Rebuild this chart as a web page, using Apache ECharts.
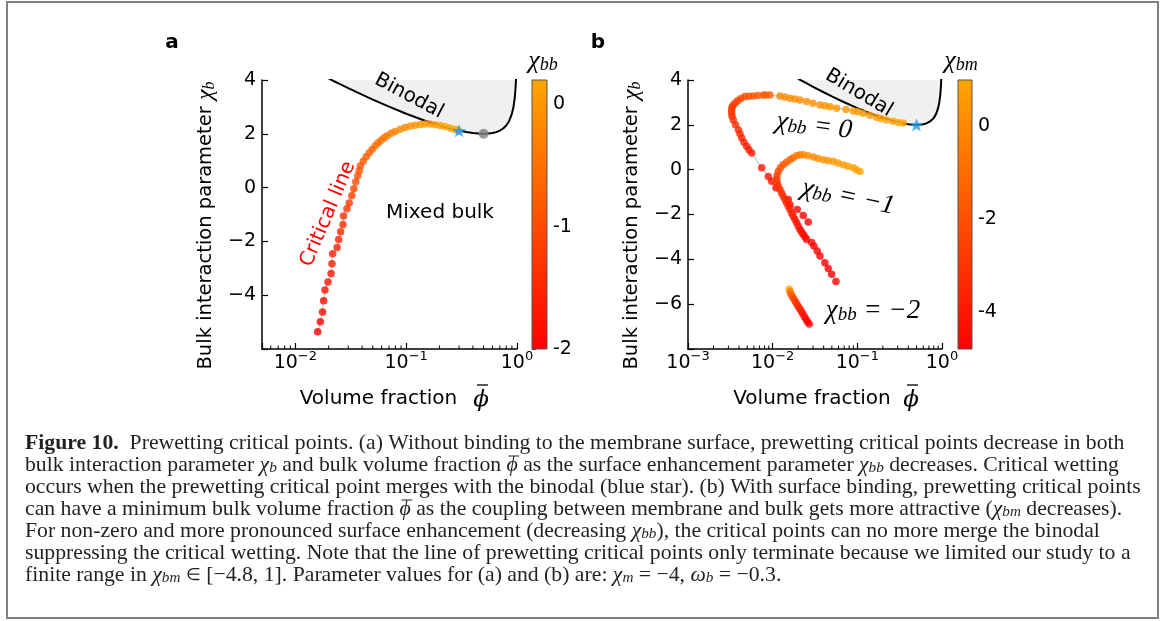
<!DOCTYPE html>
<html><head><meta charset="utf-8">
<script src="https://cdn.jsdelivr.net/npm/echarts@6/dist/echarts.min.js"></script>
<style>html,body{margin:0;padding:0;background:#fff}#c{width:1165px;height:621px}</style>
</head><body><div id="c"></div>
<script>
// ---------------- data ----------------
// Binodal (shared by both panels)
const binodalPhi = [0.02, 0.021, 0.025, 0.03, 0.04, 0.05, 0.07, 0.1, 0.15, 0.2, 0.25, 0.3, 0.35, 0.4, 0.45, 0.5, 0.55, 0.6, 0.65, 0.7, 0.75, 0.8, 0.85, 0.9, 0.93, 0.95, 0.96, 0.97, 0.975, 0.979, 0.98];
const binodalChi = [4.054, 4.01, 3.856, 3.698, 3.454, 3.272, 3.008, 2.747, 2.478, 2.31, 2.197, 2.118, 2.063, 2.027, 2.007, 2.0, 2.007, 2.027, 2.063, 2.118, 2.197, 2.31, 2.478, 2.747, 3.008, 3.272, 3.454, 3.698, 3.856, 4.01, 4.054];

// Panel a: critical line, colour = chi_bb
const critA_phi = [0.0159, 0.0168, 0.0176, 0.0180, 0.0185, 0.0197, 0.0210, 0.0214, 0.0217, 0.0238, 0.0246, 0.0256, 0.0269, 0.0272, 0.0292, 0.0306,
  0.0323, 0.0337, 0.0351, 0.0366, 0.0377,
  0.0385, 0.0410, 0.0436, 0.0464, 0.0494, 0.0526, 0.0559, 0.0595, 0.0633, 0.0674, 0.0733, 0.0796, 0.0883, 0.0980, 0.1086, 0.1205, 0.1337, 0.1483, 0.1645, 0.1825, 0.2024, 0.2245, 0.2490, 0.2763, 0.2940];
const critA_chi = [-5.36, -4.99, -4.62, -4.21, -3.81, -3.51, -3.19, -2.83, -2.46, -2.23, -1.93, -1.64, -1.37, -1.06, -0.79, -0.57,
  -0.30, -0.04, 0.22, 0.44, 0.63,
  0.80, 0.98, 1.15, 1.30, 1.43, 1.56, 1.67, 1.76, 1.85, 1.93, 2.02, 2.09, 2.17, 2.23, 2.29, 2.32, 2.35, 2.36, 2.36, 2.34, 2.31, 2.27, 2.22, 2.16, 2.12];
const critA_chibb = [-2.0, -1.95, -1.9, -1.85, -1.8, -1.75, -1.7, -1.65, -1.6, -1.55, -1.5, -1.45, -1.4, -1.35, -1.3, -1.22,
  -1.15, -1.08, -1.0, -0.95, -0.9,
  -0.85, -0.8, -0.75, -0.7, -0.65, -0.6, -0.55, -0.5, -0.45, -0.4, -0.34, -0.28, -0.22, -0.16, -0.11, -0.06, -0.02, 0.02, 0.05, 0.08, 0.1, 0.12, 0.14, 0.16, 0.18];
const starA = [0.30, 2.12];
const bulkCritA = [0.5, 2.0];

// Panel b: chi_bb = 0, colour = chi_bm
const b0_phi = [0.3482, 0.3040, 0.2633, 0.2218, 0.1900, 0.1690, 0.1408, 0.1174, 0.1016, 0.0895, 0.0733, 0.0569, 0.0475, 0.0414, 0.0362, 0.0299, 0.0252, 0.0210, 0.01834, 0.01601, 0.01397, 0.01220,
  0.00929, 0.00834, 0.00774, 0.00670, 0.00590, 0.00525, 0.00471, 0.00422, 0.00389, 0.00364, 0.00343, 0.00331, 0.00328, 0.00328, 0.00331, 0.00343, 0.00364, 0.00393, 0.00411, 0.00431, 0.00458, 0.00493, 0.00525, 0.00565,
  0.00742, 0.00887, 0.00973, 0.01094, 0.01528, 0.01601, 0.01952, 0.02298, 0.02633];
const b0_chi = [2.08, 2.10, 2.16, 2.22, 2.28, 2.34, 2.43, 2.52, 2.58, 2.62, 2.68, 2.74, 2.81, 2.85, 2.89, 2.96, 3.04, 3.11, 3.15, 3.19, 3.24, 3.29,
  3.33, 3.33, 3.33, 3.31, 3.29, 3.28, 3.26, 3.18, 3.09, 2.98, 2.89, 2.78, 2.67, 2.53, 2.38, 2.22, 2.0, 1.78, 1.6, 1.41, 1.22, 1.04, 0.89, 0.74,
  0.08, -0.30, -0.52, -0.81, -1.33, -1.56, -1.78, -2.04, -2.34];
const b0_chibm = [1.0, 0.95, 0.9, 0.85, 0.8, 0.75, 0.7, 0.65, 0.6, 0.55, 0.5, 0.45, 0.4, 0.35, 0.3, 0.25, 0.2, 0.15, 0.1, 0.05, 0.0, -0.05,
  -1.5, -1.6, -1.7, -1.8, -1.9, -2.0, -2.1, -2.2, -2.35, -2.5, -2.6, -2.7, -2.8, -2.9, -3.0, -3.1, -3.2, -3.3, -3.4, -3.5, -3.6, -3.7, -3.8, -3.9,
  -4.0, -4.1, -4.2, -4.3, -4.4, -4.5, -4.6, -4.7, -4.8];
const starB = [0.5, 2.0];

// Panel b: chi_bb = -1
const b1_phi = [0.1073, 0.0976, 0.0895, 0.0774, 0.0682, 0.0590, 0.0519, 0.0450, 0.0396, 0.0343, 0.0302, 0.0261, 0.0230, 0.0210, 0.0192, 0.01737, 0.01601, 0.01455, 0.01334, 0.01236, 0.01164, 0.01124, 0.01115, 0.01133, 0.01164, 0.01220,
  0.01275, 0.01334, 0.01397, 0.01463, 0.01530, 0.01601, 0.01675, 0.01750, 0.01834, 0.0192, 0.0201, 0.0210, 0.0220, 0.0230, 0.0241, 0.0252,
  0.0289, 0.0307, 0.0336, 0.0362, 0.0414, 0.0453, 0.0497, 0.0559];
const b1_chi = [-0.08, 0.0, 0.08, 0.15, 0.22, 0.30, 0.37, 0.41, 0.44, 0.50, 0.56, 0.62, 0.67, 0.66, 0.62, 0.53, 0.44, 0.33, 0.22, 0.09, -0.08, -0.27, -0.44, -0.60, -0.74, -0.89,
  -1.04, -1.19, -1.33, -1.48, -1.63, -1.78, -1.93, -2.08, -2.22, -2.37, -2.52, -2.67, -2.78, -2.89, -3.0, -3.11,
  -3.25, -3.41, -3.63, -3.85, -4.15, -4.41, -4.67, -4.99];
const b1_chibm = [1.0, 0.92, 0.84, 0.76, 0.68, 0.6, 0.5, 0.4, 0.3, 0.2, 0.1, 0.0, -0.1,
  -0.3, -0.5, -0.8, -1.1, -1.4, -1.7, -2.0, -2.25, -2.5, -2.7, -2.85, -3.0, -3.1,
  -3.2, -3.3, -3.4, -3.5, -3.6, -3.7, -3.8, -3.9, -4.0, -4.1, -4.2, -4.3, -4.4, -4.45, -4.5, -4.55,
  -4.6, -4.63, -4.66, -4.7, -4.73, -4.76, -4.78, -4.8];

// Panel b: chi_bb = -2
const b2_phi = [0.01570, 0.01601, 0.01645, 0.01713, 0.01784, 0.01858, 0.01936, 0.02016, 0.0210, 0.02188, 0.02279, 0.02373, 0.02472, 0.02575, 0.02704];
const b2_chi = [-5.33, -5.44, -5.56, -5.67, -5.78, -5.89, -6.0, -6.11, -6.22, -6.33, -6.44, -6.56, -6.67, -6.78, -6.89];
const b2_chibm = [1.0, -0.5, -1.5, -2.0, -2.4, -2.8, -3.1, -3.4, -3.7, -3.9, -4.1, -4.3, -4.5, -4.65, -4.8];

// Tick values
const minorTicksA = [0.006, 0.007, 0.008, 0.009, 0.02, 0.03, 0.04, 0.05, 0.06, 0.07, 0.08, 0.09, 0.2, 0.3, 0.4, 0.5, 0.6, 0.7, 0.8, 0.9];
const minorTicksB = [0.002, 0.003, 0.004, 0.005, 0.006, 0.007, 0.008, 0.009, 0.02, 0.03, 0.04, 0.05, 0.06, 0.07, 0.08, 0.09, 0.2, 0.3, 0.4, 0.5, 0.6, 0.7, 0.8, 0.9];
const cbarTicksA = [-2, -1, 0];
const cbarTicksB = [-4, -2, 0];
const rangeA = {xmin: 0.005, xmax: 1, ymin: -6, ymax: 4, cmin: -2, cmax: 0.2};
const rangeB = {xmin: 0.001, xmax: 1, ymin: -8, ymax: 4, cmin: -4.8, cmax: 1};

// Caption ({ph|ϕ} gets an overbar)
const captionLines = [
  '{b|Figure 10.}  Prewetting critical points. (a) Without binding to the membrane surface, prewetting critical points decrease in both',
  'bulk interaction parameter {m|χ}{s|b} and bulk volume fraction {ph|ϕ} as the surface enhancement parameter {m|χ}{s|bb} decreases. Critical wetting',
  'occurs when the prewetting critical point merges with the binodal (blue star). (b) With surface binding, prewetting critical points',
  'can have a minimum bulk volume fraction {ph|ϕ} as the coupling between membrane and bulk gets more attractive ({m|χ}{s|bm} decreases).',
  'For non-zero and more pronounced surface enhancement (decreasing {m|χ}{s|bb}), the critical points can no more merge the binodal',
  'suppressing the critical wetting. Note that the line of prewetting critical points only terminate because we limited our study to a',
  'finite range in {m|χ}{s|bm} {e|∈} [−4.8, 1]. Parameter values for (a) and (b) are: {m|χ}{s|m} = −4, {m|ω}{s|b} = −0.3.'
];

// ---------------- helpers ----------------
const zip2 = (a, b) => a.map((v, i) => [v, b[i]]);
const zip3 = (a, b, c) => a.map((v, i) => [v, b[i], c[i]]);
const SANS = 'DejaVu Sans';
const MATH = 'Liberation Serif';
const STAR = 'path://M0,-10 L2.35,-3.24 L9.51,-3.09 L3.8,1.24 L5.88,8.09 L0,4 L-5.88,8.09 L-3.8,1.24 L-9.51,-3.09 L-2.35,-3.24 Z';

function logLabel(v) {
  const l = Math.log10(v), e = Math.round(l);
  if (Math.abs(l - e) > 1e-6) return '';
  return '10{sup|' + (e < 0 ? '−' + (-e) : String(e)) + '}';
}
function mainX(gi, r, shift) {
  return {
    type: 'log', logBase: 10, gridIndex: gi, min: r.xmin, max: r.xmax,
    name: 'Volume fraction', nameLocation: 'middle', nameGap: 40,
    nameTextStyle: {fontFamily: SANS, fontSize: 20, color: '#000', padding: [0, shift, 0, 0]},
    axisLine: {onZero: false, lineStyle: {color: '#000', width: 1.5}},
    axisTick: {inside: true, length: 6, lineStyle: {color: '#000', width: 1.2}},
    minorTick: {show: false}, splitLine: {show: false},
    axisLabel: {formatter: logLabel, margin: 1, fontFamily: SANS, fontSize: 19, color: '#000', lineHeight: 26,
      rich: {sup: {fontFamily: SANS, fontSize: 13, lineHeight: 14, verticalAlign: 'top', color: '#000'}}}
  };
}
function mainY(gi, r) {
  return {
    type: 'value', gridIndex: gi, min: r.ymin, max: r.ymax, interval: 2,
    name: 'Bulk interaction parameter {m|χ}{s|b}', nameLocation: 'middle', nameGap: 44, nameRotate: 90,
    nameTextStyle: {fontFamily: SANS, fontSize: 19.5, color: '#000', padding: [0, 22, 0, 0],
      rich: {m: {fontFamily: MATH, fontStyle: 'italic', fontSize: 24, color: '#000'},
             s: {fontFamily: MATH, fontStyle: 'italic', fontSize: 16, verticalAlign: 'bottom', color: '#000'}}},
    axisLine: {onZero: false, lineStyle: {color: '#000', width: 1.5}},
    axisTick: {inside: true, length: 6, lineStyle: {color: '#000', width: 1.2}},
    splitLine: {show: false},
    axisLabel: {margin: 6, fontFamily: SANS, fontSize: 19, color: '#000',
      formatter: v => v === r.ymin ? '' : String(v).replace('-', '−')}
  };
}
function cbarY(gi, r, ticks) {
  return {
    type: 'value', gridIndex: gi, min: r.cmin, max: r.cmax, position: 'right',
    axisLine: {show: false}, splitLine: {show: false},
    axisTick: {show: true, inside: false, length: 4, customValues: ticks, lineStyle: {color: '#333', width: 1}},
    axisLabel: {customValues: ticks, margin: 6, fontFamily: SANS, fontSize: 19, color: '#000', formatter: v => String(v)}
  };
}
function minorTicks(ai, vals, ymin) {
  return {type: 'custom', xAxisIndex: ai, yAxisIndex: ai, data: vals.map(v => [v, ymin]), clip: false, silent: true, z: 6,
    renderItem: (p, api) => {
      const c = api.coord([api.value(0), api.value(1)]);
      return {type: 'line', shape: {x1: c[0], y1: c[1], x2: c[0], y2: c[1] - 3.5}, style: {stroke: '#000', lineWidth: 1}};
    }};
}
function colorbar(ai, r) {
  return {type: 'custom', xAxisIndex: ai, yAxisIndex: ai, data: [[0, r.cmax, r.cmin]], clip: false, silent: true,
    renderItem: (p, api) => {
      const a = api.coord([0, api.value(1)]), b = api.coord([1, api.value(2)]);
      return {type: 'rect', shape: {x: a[0], y: a[1], width: b[0] - a[0], height: b[1] - a[1]},
        style: {fill: new echarts.graphic.LinearGradient(0, 0, 0, 1, [{offset: 0, color: '#ffa500'}, {offset: 1, color: '#ff0000'}]),
                stroke: '#555', lineWidth: 1}};
    }};
}
function binodal(ai) {
  return {type: 'line', xAxisIndex: ai, yAxisIndex: ai, data: zip2(binodalPhi, binodalChi), showSymbol: false, symbol: 'none',
    lineStyle: {color: '#000', width: 2}, areaStyle: {color: '#f0f0f0', origin: 'end', opacity: 1}, z: 1, silent: true};
}
function connector(ai, px, py) {
  return {type: 'line', xAxisIndex: ai, yAxisIndex: ai, data: zip2(px, py), symbol: 'none',
    lineStyle: {color: '#c8c8c8', width: 1.2}, z: 2, silent: true};
}
function dots(ai, px, py, pc) {
  return {type: 'scatter', xAxisIndex: ai, yAxisIndex: ai, data: zip3(px, py, pc), symbolSize: 7.5, z: 3, silent: true};
}
function txt(x, y, text, style, rot) {
  return {type: 'text', x: x, y: y, rotation: (rot || 0) * Math.PI / 180, z: 50, silent: true,
    style: Object.assign({text: text, fill: '#000', fontFamily: SANS, fontSize: 20, align: 'center', verticalAlign: 'middle',
      textAlign: 'center', textVerticalAlign: 'middle'}, style || {})};
}
const mathRich = (big, small) => ({
  m: {fontFamily: MATH, fontStyle: 'italic', fontSize: big, color: '#000'},
  s: {fontFamily: MATH, fontStyle: 'italic', fontSize: small, verticalAlign: 'bottom', color: '#000'}
});
function mathTxt(x, y, text, rot, big) {
  big = big || 27;
  return txt(x, y, text, {fontFamily: MATH, fontStyle: 'italic', fontSize: big, rich: mathRich(big, Math.round(big * 0.7))}, rot);
}
// phi with an overbar (axis-name symbol)
function phiBar(cx, cy) {
  return [
    txt(cx, cy, 'ϕ', {fontFamily: 'DejaVu Serif', fontStyle: 'italic', fontSize: 23}),
    {type: 'line', shape: {x1: cx - 4, y1: cy - 15, x2: cx + 7, y2: cy - 15}, style: {stroke: '#000', lineWidth: 1.3}, z: 50, silent: true}
  ];
}

// caption font size: fit the plain line 6 to its width in the reference
const ctx = document.createElement('canvas').getContext('2d');
ctx.font = '18px "' + MATH + '"';
const capSize = 18 * 1106 / ctx.measureText(captionLines[5]).width;
const capColor = '#231f20';
const capRich = {
  b: {fontFamily: MATH, fontWeight: 'bold', fontSize: capSize, color: capColor},
  m: {fontFamily: MATH, fontStyle: 'italic', fontSize: capSize, color: capColor},
  ph: {fontFamily: MATH, fontStyle: 'italic', fontSize: capSize, color: capColor},
  e: {fontFamily: MATH, fontSize: capSize * 0.8, color: capColor},
  s: {fontFamily: MATH, fontStyle: 'italic', fontSize: capSize * 0.7, verticalAlign: 'bottom', lineHeight: 12, color: capColor}
};
function fontOf(name) {
  const r = capRich[name];
  if (!r) return capSize + 'px "' + MATH + '"';
  return (r.fontStyle || 'normal') + ' ' + (r.fontWeight || 'normal') + ' ' + r.fontSize + 'px "' + MATH + '"';
}
const captionGraphics = [];
captionLines.forEach((t, i) => {
  const y = 443 + 22 * i;
  captionGraphics.push({
    type: 'text', x: 25, y: y, z: 50, silent: true,
    style: {text: t, fill: capColor, fontFamily: MATH, fontSize: capSize, lineHeight: 22, align: 'left', verticalAlign: 'middle',
      textAlign: 'left', textVerticalAlign: 'middle', rich: capRich}
  });
  // overbars for {ph|...} tokens
  const re = /\{(\w+)\|([^}]*)\}/g;
  let x = 25, last = 0, m;
  while ((m = re.exec(t)) !== null) {
    ctx.font = fontOf(null); x += ctx.measureText(t.slice(last, m.index)).width;
    ctx.font = fontOf(m[1]); const w = ctx.measureText(m[2]).width;
    if (m[1] === 'ph') {
      captionGraphics.push({type: 'line', shape: {x1: x + 2, y1: y - 9, x2: x + w + 1.5, y2: y - 9},
        style: {stroke: capColor, lineWidth: 1}, z: 50, silent: true});
    }
    x += w; last = re.lastIndex;
  }
});

// ---------------- chart ----------------
const chart = echarts.init(document.getElementById('c'), null, {renderer: 'canvas', width: 1165, height: 621});
chart.setOption({
  animation: false,
  backgroundColor: '#fff',
  grid: [
    {left: 262, top: 80, width: 255, height: 269},
    {left: 688, top: 80, width: 254, height: 269},
    {left: 532, top: 80, width: 15, height: 269},
    {left: 958, top: 80, width: 14, height: 269}
  ],
  xAxis: [mainX(0, rangeA, 22), mainX(1, rangeB, 6),
    {type: 'value', gridIndex: 2, min: 0, max: 1, show: false},
    {type: 'value', gridIndex: 3, min: 0, max: 1, show: false}],
  yAxis: [mainY(0, rangeA), mainY(1, rangeB), cbarY(2, rangeA, cbarTicksA), cbarY(3, rangeB, cbarTicksB)],
  visualMap: [
    {type: 'continuous', show: false, seriesIndex: 6, dimension: 2, min: rangeA.cmin, max: rangeA.cmax, inRange: {color: ['#ff0000', '#ffa500']}},
    {type: 'continuous', show: false, seriesIndex: [7, 8, 9], dimension: 2, min: rangeB.cmin, max: rangeB.cmax, inRange: {color: ['#ff0000', '#ffa500']}}
  ],
  series: [
    binodal(0), binodal(1),
    connector(0, critA_phi, critA_chi), connector(1, b0_phi, b0_chi), connector(1, b1_phi, b1_chi), connector(1, b2_phi, b2_chi),
    dots(0, critA_phi, critA_chi, critA_chibb), dots(1, b0_phi, b0_chi, b0_chibm), dots(1, b1_phi, b1_chi, b1_chibm), dots(1, b2_phi, b2_chi, b2_chibm),
    {type: 'scatter', xAxisIndex: 0, yAxisIndex: 0, data: [starA], symbol: STAR, symbolSize: 14, symbolKeepAspect: true, itemStyle: {color: '#1e9bf0'}, z: 5, silent: true},
    {type: 'scatter', xAxisIndex: 0, yAxisIndex: 0, data: [bulkCritA], symbolSize: 10, itemStyle: {color: '#808080'}, z: 5, silent: true},
    {type: 'scatter', xAxisIndex: 1, yAxisIndex: 1, data: [starB], symbol: STAR, symbolSize: 14, symbolKeepAspect: true, itemStyle: {color: '#1e9bf0'}, z: 5, silent: true},
    minorTicks(0, minorTicksA, rangeA.ymin), minorTicks(1, minorTicksB, rangeB.ymin),
    colorbar(2, rangeA), colorbar(3, rangeB)
  ],
  graphic: [
    {type: 'rect', shape: {x: 7, y: 2, width: 1151, height: 616}, style: {fill: 'transparent', stroke: '#808080', lineWidth: 2}, z: 100, silent: true},
    txt(172, 43, 'a', {fontWeight: 'bold', fontSize: 20}),
    txt(598, 43, 'b', {fontWeight: 'bold', fontSize: 20}),
    mathTxt(543, 61, '{m|χ}{s|bb}', 0, 26),
    mathTxt(961, 61, '{m|χ}{s|bm}', 0, 26),
    txt(409, 96, 'Binodal', {fontSize: 20}, -28),
    txt(440, 213, 'Mixed bulk', {fontSize: 20}),
    txt(328, 214, 'Critical line', {fontSize: 20, fill: '#ff0000'}, 67),
    txt(859, 93, 'Binodal', {fontSize: 20}, -31),
    mathTxt(814, 126, '{m|χ}{s|bb} = 0', -7.5),
    mathTxt(848, 197, '{m|χ}{s|bb} = −1', -12),
    mathTxt(873, 311, '{m|χ}{s|bb} = −2', 0)
  ].concat(phiBar(481, 400), phiBar(911, 400), captionGraphics)
});
</script>
</body></html>
